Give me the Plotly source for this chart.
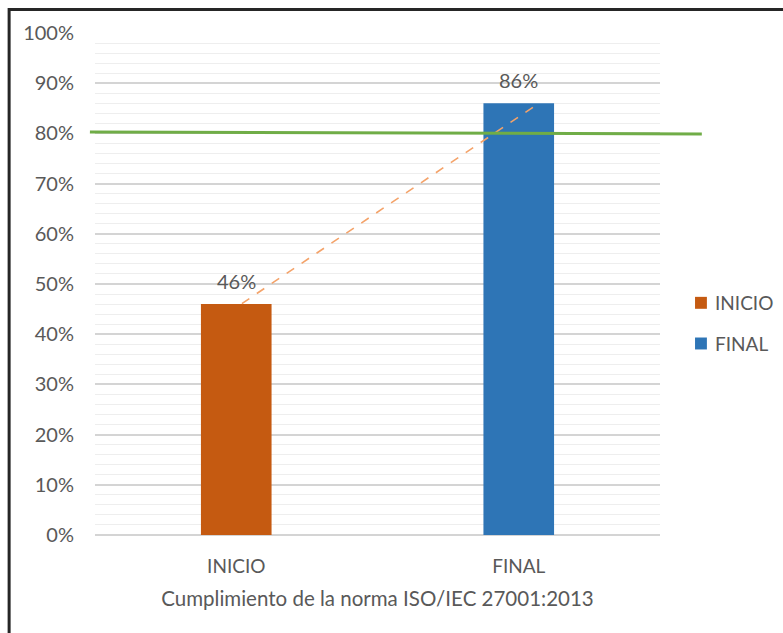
import plotly.graph_objects as go

# Compliance with ISO/IEC 27001:2013, start vs. end
categories = ["INICIO", "FINAL"]
values = [46, 86]
bar_colors = ["#C55A11", "#2E75B6"]

# reference target line (slightly tilted, as drawn)
target_y = [80.3, 79.9]

# dashed connector between the two bar tops
trend_x = [0.02, 1.05]
trend_y = [46.1, 85.2]

y_ticks = list(range(0, 101, 10))
y_tick_labels = [f"{v}%" for v in y_ticks]

FONT = "Lato, 'Open Sans', sans-serif"
TXT = "#595959"

fig = go.Figure()

for i, (cat, val, col) in enumerate(zip(categories, values, bar_colors)):
    fig.add_trace(go.Bar(
        x=[i], y=[val], name=cat, width=0.25,
        marker=dict(color=col, line=dict(width=0)),
        showlegend=False, hoverinfo="skip",
    ))

fig.add_trace(go.Scatter(
    x=trend_x, y=trend_y, mode="lines",
    line=dict(color="#F4A36A", width=1.6, dash="dash"),
    showlegend=False, hoverinfo="skip",
))

for i, val in enumerate(values):
    fig.add_annotation(
        x=i, y=val, text=f"{val}%", showarrow=False,
        yanchor="bottom", yshift=9,
        font=dict(family=FONT, size=20, color=TXT),
    )

# green target line running past the plot area
fig.add_shape(
    type="line", xref="paper", yref="y",
    x0=-0.009, x1=1.074, y0=target_y[0], y1=target_y[1],
    line=dict(color="#70AD47", width=3), layer="above",
)

# legend drawn as swatches + labels on the right
legend_y = [0.4625, 0.3815]
sw_h = 0.0119
for cat, col, ly in zip(categories, bar_colors, legend_y):
    fig.add_shape(
        type="rect", xref="paper", yref="paper",
        x0=1.062, x1=1.083, y0=ly - sw_h, y1=ly + sw_h,
        fillcolor=col, line=dict(width=0),
    )
    fig.add_annotation(
        x=1.094, y=ly, xref="paper", yref="paper", text=cat,
        showarrow=False, xanchor="left", yanchor="middle",
        font=dict(family=FONT, size=19, color=TXT),
    )

# outer frame
fig.add_shape(
    type="rect", xref="paper", yref="paper",
    x0=-0.152, x1=1.4, y0=-0.4, y1=1.047,
    line=dict(color="#262626", width=3), fillcolor="rgba(0,0,0,0)",
)

fig.update_layout(
    width=783, height=633,
    margin=dict(l=95, r=123, t=33, b=98, autoexpand=False),
    paper_bgcolor="white", plot_bgcolor="white",
    barmode="overlay",
    font=dict(family=FONT, color=TXT),
    showlegend=False,
    xaxis=dict(
        range=[-0.5, 1.5],
        tickvals=[0, 1], ticktext=categories,
        showgrid=False, zeroline=False, showline=False,
        tickfont=dict(family=FONT, size=19, color=TXT),
        ticks="", ticklabelstandoff=18,
        title=dict(text="Cumplimiento de la norma ISO/IEC 27001:2013",
                   font=dict(family=FONT, size=20.5, color=TXT), standoff=15),
    ),
    yaxis=dict(
        range=[0, 100],
        tickvals=y_ticks, ticktext=y_tick_labels,
        showgrid=True, gridcolor="#D4D4D4", gridwidth=1.6,
        zeroline=True, zerolinecolor="#D4D4D4", zerolinewidth=1.6,
        showline=False, ticks="", ticklabelstandoff=20,
        tickfont=dict(family=FONT, size=20, color=TXT),
        minor=dict(dtick=2, showgrid=True, gridcolor="#EEEEEE", gridwidth=1.2),
    ),
)

fig.write_html("out.html")
